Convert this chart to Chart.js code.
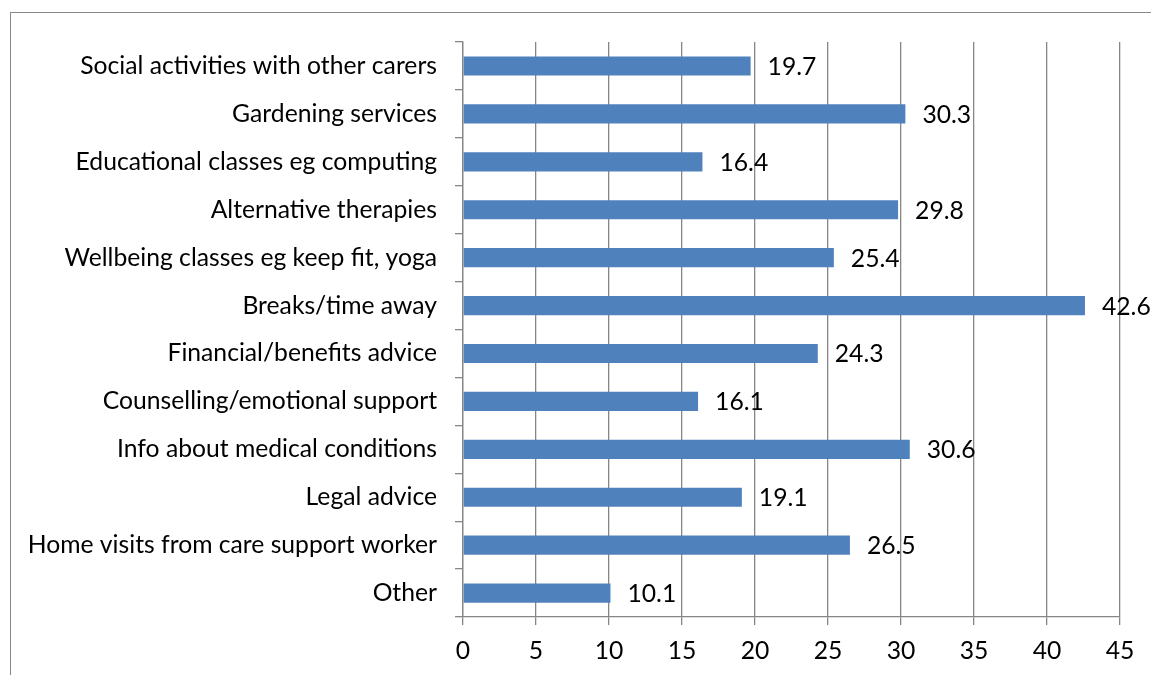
<!DOCTYPE html>
<html>
<head>
<meta charset="utf-8">
<script src="https://cdn.jsdelivr.net/npm/chart.js@4.4.0/dist/chart.umd.min.js"></script>
<style>
  html, body { margin: 0; padding: 0; background: #fff; overflow: hidden; }
  #wrap { position: relative; width: 1151px; height: 675px; }
  #frame { position: absolute; left: 10px; top: 12px; width: 1200px; height: 700px;
           border-left: 1.5px solid #888; border-top: 1.5px solid #888; }
</style>
</head>
<body>
<div id="wrap">
  <div id="frame"></div>
  <canvas id="chart" width="1151" height="675"></canvas>
</div>
<script>
const categories = [
  "Social activities with other carers",
  "Gardening services",
  "Educational classes eg computing",
  "Alternative therapies",
  "Wellbeing classes eg keep fit, yoga",
  "Breaks/time away",
  "Financial/benefits advice",
  "Counselling/emotional support",
  "Info about medical conditions",
  "Legal advice",
  "Home visits from care support worker",
  "Other"
];
const percentages = [19.7, 30.3, 16.4, 29.8, 25.4, 42.6, 24.3, 16.1, 30.6, 19.1, 26.5, 10.1];
const xTicks = [0, 5, 10, 15, 20, 25, 30, 35, 40, 45];

const font = { family: "Lato", size: 24.7 };
const gridGray = "#868686";

// value labels to the right of each bar
const valueLabels = {
  id: "valueLabels",
  afterDatasetsDraw(chart) {
    const ctx = chart.ctx;
    const meta = chart.getDatasetMeta(0);
    ctx.save();
    ctx.font = font.size + "px " + font.family;
    ctx.fillStyle = "#000";
    ctx.textAlign = "left";
    ctx.textBaseline = "middle";
    meta.data.forEach((bar, i) => {
      ctx.fillText(percentages[i].toFixed(1), bar.x + 17, bar.y + 1);
    });
    ctx.restore();
  }
};

new Chart(document.getElementById("chart"), {
  type: "bar",
  data: {
    labels: categories,
    datasets: [{
      data: percentages,
      backgroundColor: "#4F81BD",
      borderWidth: 0,
      barPercentage: 0.4,
      categoryPercentage: 1
    }]
  },
  options: {
    indexAxis: "y",
    responsive: false,
    animation: false,
    layout: { padding: { top: 42, right: 31, left: 0, bottom: 0 } },
    plugins: {
      legend: { display: false },
      tooltip: { enabled: false }
    },
    scales: {
      x: {
        min: 0,
        max: 45,
        afterBuildTicks(scale) {
          scale.ticks = xTicks.map(v => ({ value: v }));
        },
        afterFit(scale) { scale.height = 58; },
        grid: { color: gridGray, lineWidth: 1.3, tickLength: 8 },
        border: { color: gridGray, width: 1.3 },
        ticks: { color: "#000", font, padding: 11, maxRotation: 0 }
      },
      y: {
        afterFit(scale) { scale.width = 463; },
        grid: { offset: true, drawOnChartArea: false, color: gridGray, lineWidth: 1.3, tickLength: 8 },
        border: { color: gridGray, width: 1.3 },
        ticks: { color: "#000", font, padding: 18, autoSkip: false }
      }
    }
  },
  plugins: [valueLabels]
});
</script>
</body>
</html>
